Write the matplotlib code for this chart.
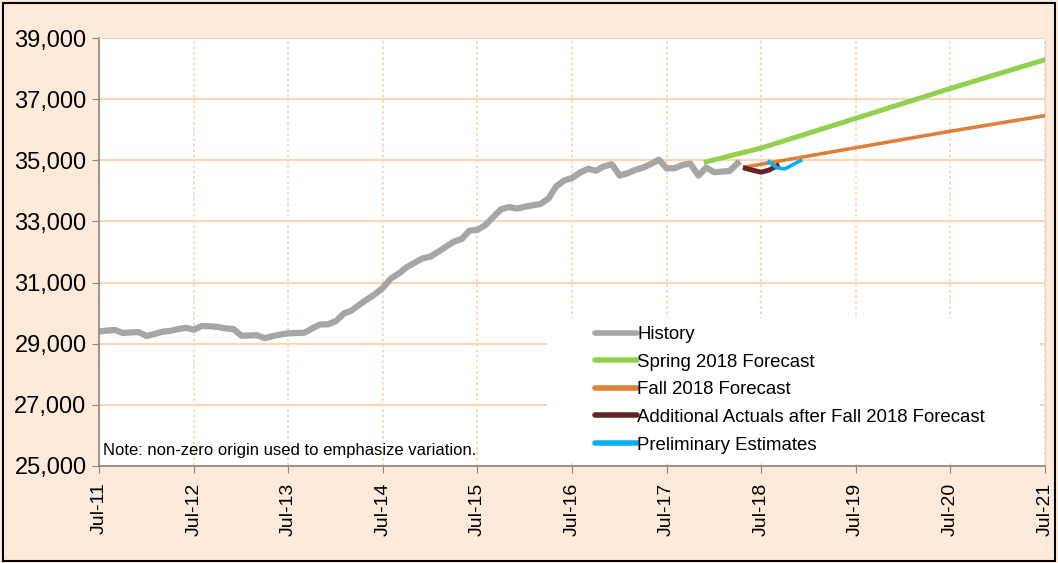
import matplotlib
matplotlib.use("Agg")
import matplotlib.pyplot as plt
import matplotlib.dates as mdates
import pandas as pd

# monthly history, Jul-11 .. Apr-18
hist_start = "2011-07-01"
history = [29400, 29430, 29450, 29350, 29370, 29380, 29250, 29320, 29390, 29420,
           29480, 29520, 29460, 29580, 29570, 29550, 29500, 29480, 29260, 29270,
           29280, 29180, 29250, 29300, 29340, 29350, 29360, 29500, 29630, 29635,
           29740, 29990, 30080, 30270, 30450, 30620, 30830, 31130, 31300, 31500,
           31650, 31790, 31850, 32010, 32170, 32340, 32420, 32700, 32720, 32880,
           33150, 33400, 33470, 33420, 33480, 33530, 33570, 33750, 34150, 34340,
           34420, 34600, 34720, 34660, 34800, 34870, 34500, 34580, 34680, 34760,
           34880, 35020, 34740, 34740, 34850, 34890, 34500, 34760, 34610, 34630,
           34650, 34900]

spring_dates = ["2017-12-01", "2018-07-01", "2019-07-01", "2020-07-01", "2021-07-01"]
spring = [34950, 35400, 36370, 37350, 38290]

fall_dates = ["2018-05-01", "2019-07-01", "2020-07-01", "2021-07-01"]
fall = [34780, 35410, 35950, 36460]

actual_start = "2018-05-01"
actuals = [34740, 34670, 34610, 34680, 34820]

prelim_start = "2018-08-01"
prelim = [34950, 34750, 34720, 34860, 34990]

yticks = [25000, 27000, 29000, 31000, 33000, 35000, 37000, 39000]
xtick_years = list(range(2011, 2022))

plt.rcParams["font.family"] = ["Liberation Sans", "DejaVu Sans"]

bg = "#FDEADA"
grid = "#FCD5B4"

fig = plt.figure(figsize=(10.58, 5.63), dpi=100, facecolor=bg)
ax = fig.add_axes([0.0936, 0.1723, 0.894, 0.7602])
ax.set_facecolor("white")

ax.plot(pd.date_range(hist_start, periods=len(history), freq="MS"), history,
        color="#A6A6A6", lw=4.5, label="History", solid_joinstyle="round")
ax.plot(pd.to_datetime(spring_dates), spring, color="#92D050", lw=3.6,
        label="Spring 2018 Forecast")
ax.plot(pd.to_datetime(fall_dates), fall, color="#DE8039", lw=2.6,
        label="Fall 2018 Forecast")
ax.plot(pd.date_range(actual_start, periods=len(actuals), freq="MS"), actuals,
        color="#632523", lw=3.6, label="Additional Actuals after Fall 2018 Forecast")
ax.plot(pd.date_range(prelim_start, periods=len(prelim), freq="MS"), prelim,
        color="#00B0F0", lw=2.6, label="Preliminary Estimates")

ax.set_ylim(25000, 39000)
ax.set_xlim(pd.Timestamp("2011-07-01"), pd.Timestamp("2021-07-01"))
ax.set_yticks(yticks)
ax.set_yticklabels([f"{v:,}" for v in yticks], fontsize=17)
ax.set_xticks([pd.Timestamp(f"{y}-07-01") for y in xtick_years])
ax.xaxis.set_major_formatter(mdates.DateFormatter("%b-%y"))
plt.setp(ax.get_xticklabels(), rotation=90, fontsize=14)
ax.tick_params(axis="both", direction="out", length=5, color="#868686", pad=4)
ax.tick_params(axis="x", pad=7)

ax.grid(axis="y", color=grid, lw=1.5, ls="-")
ax.grid(axis="x", color=grid, lw=1.3, ls=(0, (1.5, 1.5)))
ax.set_axisbelow(True)

for s in ["left", "bottom"]:
    ax.spines[s].set_color("#868686")
    ax.spines[s].set_linewidth(1.2)
for s in ["top", "right"]:
    ax.spines[s].set_color("#D9D9D9")
    ax.spines[s].set_linewidth(0.8)

# white block behind the legend, wider than its entries
ax.add_patch(plt.Rectangle((0.4736, 0.009), 0.521, 0.337, transform=ax.transAxes,
                           facecolor="white", edgecolor="none", zorder=2.5))

leg = ax.legend(loc="upper left", bbox_to_anchor=(0.524, 0.327), fontsize=13.4,
                frameon=False, handlelength=2.3, handletextpad=0.0,
                labelspacing=0.57, borderpad=0, borderaxespad=0)
leg.set_zorder(3)
for h in leg.get_lines():
    h.set_linewidth(4)
    h.set_solid_capstyle("round")

ax.text(0.004, 0.018, "Note: non-zero origin used to emphasize variation.",
        transform=ax.transAxes, fontsize=12, ha="left", va="bottom", zorder=4)

fig.patches.append(plt.Rectangle((0.003, 0.003), 0.994, 0.992, transform=fig.transFigure,
                                 fill=False, edgecolor="black", lw=1.5))

fig.savefig("out.png", dpi=100, facecolor=bg)
